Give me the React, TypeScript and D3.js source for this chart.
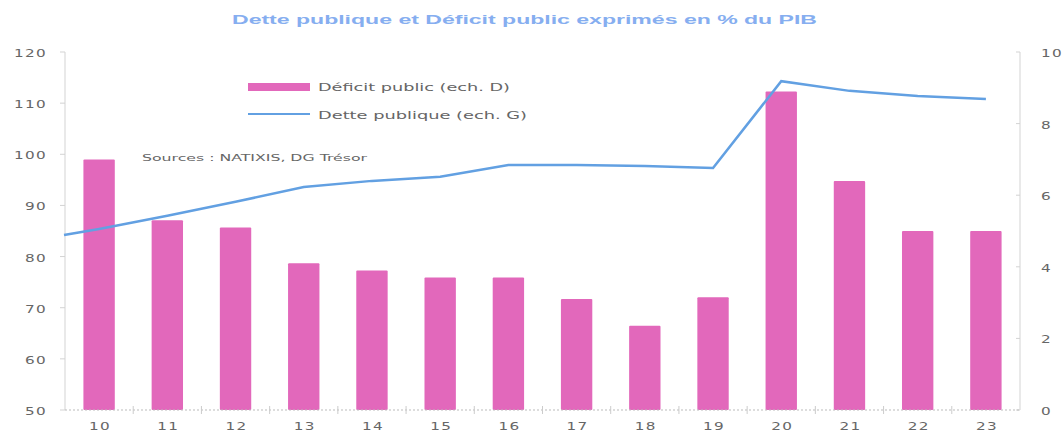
import React from 'react';
import * as d3 from 'd3';

// years (20xx)
const years = ['10', '11', '12', '13', '14', '15', '16', '17', '18', '19', '20', '21', '22', '23'];
// Déficit public, % du PIB (right axis)
const deficit = [7.0, 5.3, 5.1, 4.1, 3.9, 3.7, 3.7, 3.1, 2.35, 3.15, 8.9, 6.4, 5.0, 5.0];
// Dette publique, % du PIB (left axis)
const debt = [85.4, 88.0, 90.7, 93.6, 94.8, 95.6, 97.9, 97.9, 97.7, 97.3, 114.3, 112.4, 111.4, 110.8];
const debtStart = 84.2; // value where the line meets the left axis

const leftTicks = [50, 60, 70, 80, 90, 100, 110, 120];
const rightTicks = [0, 2, 4, 6, 8, 10];

const W = 1063;
const H = 434;
const axisColor = '#d3d3d3';
const textColor = '#666';
const barColor = '#e268bb';
const lineColor = '#62a0e2';
const font = 'DejaVu Sans, Verdana, sans-serif';

// the source picture is stretched horizontally, so the text is too
const Wide: React.FC<{ x: number; y: number; anchor?: string; children: React.ReactNode }> = ({ x, y, anchor = 'start', children }) => (
  <text transform={`translate(${x},${y}) scale(1.45,1)`} textAnchor={anchor} fontSize={10.5} fill={textColor} letterSpacing={0.9}>
    {children}
  </text>
);

const App: React.FC = () => {
  const x = d3.scaleBand<string>().domain(years).range([65, 1020]).paddingInner(0.54).paddingOuter(0.27);
  const yL = d3.scaleLinear().domain([50, 120]).range([410, 52]);
  const yR = d3.scaleLinear().domain([0, 10]).range([410, 52]);
  const step = x.step();
  const cx = (d: string) => (x(d) ?? 0) + x.bandwidth() / 2;

  const pts: [number, number][] = [[cx(years[0]) - step / 2 - 1, yL(debtStart)]];
  years.forEach((y, i) => pts.push([cx(y), yL(debt[i])]));
  const line = d3.line<[number, number]>().x(d => d[0]).y(d => d[1]);

  return (
    <svg width={W} height={H} style={{ position: 'absolute', left: 0, top: 0, background: '#fff' }} fontFamily={font}>
      <text x={232} y={24} fontFamily="Liberation Sans, Arial, sans-serif" fontSize={12} fontWeight="bold" fill="#86aef0" textLength={585} lengthAdjust="spacingAndGlyphs">
        Dette publique  et Déficit public  exprimés  en % du PIB
      </text>

      {/* left axis */}
      <line x1={65} x2={65} y1={52} y2={410} stroke={axisColor} />
      {leftTicks.map(t => (
        <g key={'l' + t}>
          <line x1={60} x2={65} y1={yL(t)} y2={yL(t)} stroke={axisColor} />
          <Wide x={47} y={yL(t) + 5} anchor="end">{t}</Wide>
        </g>
      ))}

      {/* right axis */}
      <line x1={1020} x2={1020} y1={52} y2={410} stroke={axisColor} />
      {rightTicks.map(t => (
        <g key={'r' + t}>
          <line x1={1016} x2={1020} y1={yR(t)} y2={yR(t)} stroke={axisColor} />
          <Wide x={1041} y={yR(t) + 5}>{t}</Wide>
        </g>
      ))}

      {/* bars */}
      {years.map((y, i) => (
        <rect key={'b' + y} x={x(y)} y={yR(deficit[i])} width={x.bandwidth()} height={410 - yR(deficit[i])} fill={barColor} rx={1} />
      ))}

      {/* bottom axis */}
      <line x1={65} x2={1020} y1={410} y2={410} stroke="#bbb" strokeDasharray="2,2" />
      {years.slice(1).map(y => (
        <line key={'t' + y} x1={cx(y) - step / 2} x2={cx(y) - step / 2} y1={406} y2={414} stroke="#ccc" />
      ))}
      {years.map(y => (
        <Wide key={'x' + y} x={cx(y) + 1} y={430} anchor="middle">{y}</Wide>
      ))}

      {/* debt line */}
      <path d={line(pts) ?? ''} fill="none" stroke={lineColor} strokeWidth={2.5} />

      {/* legend */}
      <rect x={248} y={83} width={62} height={8} fill={barColor} />
      <text x={318} y={91} fontSize={10.5} fill={textColor} textLength={192} lengthAdjust="spacingAndGlyphs">Déficit public (ech. D)</text>
      <line x1={248} x2={310} y1={114} y2={114} stroke={lineColor} strokeWidth={2} />
      <text x={318} y={119} fontSize={10.5} fill={textColor} textLength={209} lengthAdjust="spacingAndGlyphs">Dette publique (ech. G)</text>

      <text x={142} y={161} fontSize={9.5} fill={textColor} textLength={225} lengthAdjust="spacingAndGlyphs">Sources : NATIXIS, DG Trésor</text>
    </svg>
  );
};

export default App;
